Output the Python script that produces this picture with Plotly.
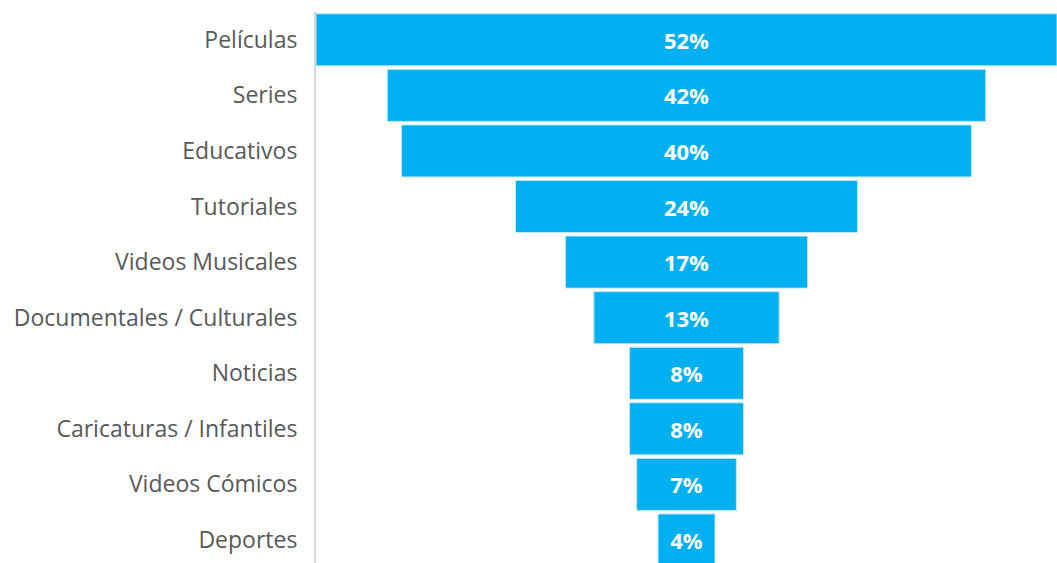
import plotly.graph_objects as go

# Preferred content types (share of respondents, %)
categories = [
    "Películas",
    "Series",
    "Educativos",
    "Tutoriales",
    "Videos Musicales",
    "Documentales / Culturales",
    "Noticias",
    "Caricaturas / Infantiles",
    "Videos Cómicos",
    "Deportes",
]
values = [52, 42, 40, 24, 17, 13, 8, 8, 7, 4]

fig = go.Figure(
    go.Funnel(
        y=categories,
        x=values,
        texttemplate="%{x}%",
        textposition="inside",
        insidetextanchor="middle",
        textfont=dict(family="Open Sans, sans-serif", size=22, color="white", weight="bold"),
        marker=dict(color="#00B0F0", line=dict(color="#BFE9FA", width=1)),
        connector=dict(visible=False),
        hoverinfo="y+x",
    )
)

max_v = max(values)
fig.update_layout(
    width=1057,
    height=563,
    margin=dict(l=316, r=0, t=12, b=0),
    paper_bgcolor="white",
    plot_bgcolor="white",
    showlegend=False,
    funnelgap=0.064,
    xaxis=dict(range=[-max_v / 2, max_v / 2], visible=False),
    yaxis=dict(
        range=[9.414, -0.5],
        autorange=False,
        showline=True,
        linecolor="#D9D9D9",
        linewidth=2,
        showgrid=False,
        zeroline=False,
        ticks="",
        ticklabelstandoff=12,
        tickfont=dict(family="Open Sans, sans-serif", size=23, color="#595959"),
    ),
)

fig.write_html("out.html")
